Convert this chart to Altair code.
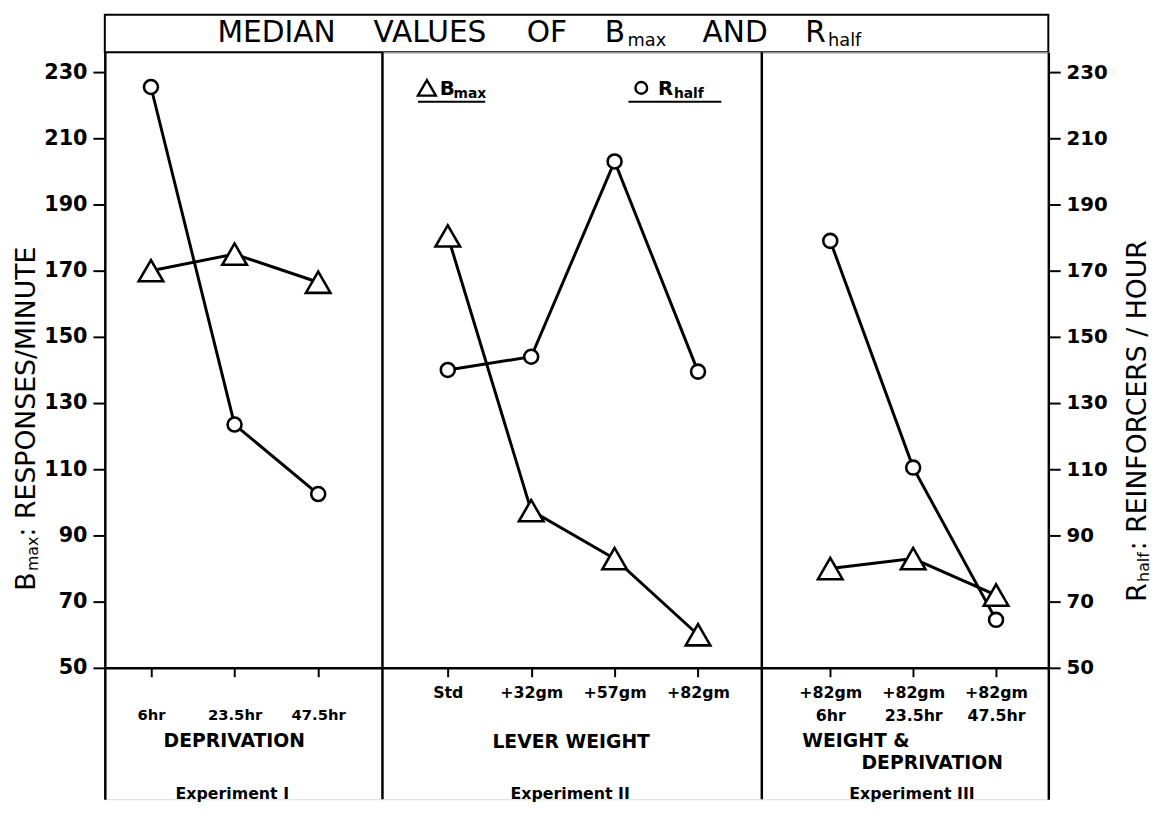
import altair as alt
import pandas as pd

# ---------------- data ----------------
p1_categories = ["6hr", "23.5hr", "47.5hr"]
p1_bmax = [170, 175, 166.5]
p1_rhalf = [225.5, 123.5, 102.5]

p2_categories = ["Std", "+32gm", "+57gm", "+82gm"]
p2_bmax = [180.5, 97.5, 83, 60]
p2_rhalf = [140, 144, 203, 139.5]

p3_categories = ["+82gm|6hr", "+82gm|23.5hr", "+82gm|47.5hr"]
p3_bmax = [80, 83, 72]
p3_rhalf = [179, 110.5, 64.5]

y_ticks = [50, 70, 90, 110, 130, 150, 170, 190, 210, 230]
series_names = ["Bmax", "Rhalf"]

# ---------------- layout ----------------
FONT = "DejaVu Sans"
H = 756                      # panel height
PX_PER_UNIT = 603 / 180      # 230 -> 20px from top, 50 -> 623px from top
Y_DOMAIN = [50 - (H - 623) / PX_PER_UNIT, 230 + 20 / PX_PER_UNIT]
AXIS_OFFSET = -(H - 623)
W1, W2, W3 = 281, 384, 290
ONE = pd.DataFrame({"k": [0]})


def txt(s, x, y, size, weight="normal", align="left", angle=0, baseline="middle"):
    return alt.Chart(ONE).mark_text(
        text=s, font=FONT, fontSize=size, fontWeight=weight, align=align,
        baseline=baseline, angle=angle, color="black"
    ).encode(x=alt.value(x), y=alt.value(y))


def rule(x, y, x2=None, y2=None, w=2):
    enc = dict(x=alt.value(x), y=alt.value(y))
    if x2 is not None:
        enc["x2"] = alt.value(x2)
    if y2 is not None:
        enc["y2"] = alt.value(y2)
    return alt.Chart(ONE).mark_rule(color="black", strokeWidth=w).encode(**enc)


def panel(cats, bmax, rhalf, width, pad, align, label_pad, y_axis, extras,
          label_size=16, label_expr=None):
    df = pd.DataFrame({
        "cond": cats * 2,
        "series": [series_names[0]] * len(cats) + [series_names[1]] * len(cats),
        "value": list(bmax) + list(rhalf),
    })
    axis_kw = dict(
        title=None, labelAngle=0, offset=AXIS_OFFSET, tickSize=9, tickWidth=2,
        domainWidth=2.5, domainColor="black", tickColor="black",
        labelPadding=label_pad, labelFont=FONT, labelFontWeight="bold",
        labelFontSize=label_size, labelColor="black", labelLineHeight=23,
    )
    if label_expr:
        axis_kw["labelExpr"] = label_expr
    xenc = alt.X("cond:N", sort=cats,
                 scale=alt.Scale(type="point", padding=pad, align=align),
                 axis=alt.Axis(**axis_kw))
    yenc = alt.Y("value:Q",
                 scale=alt.Scale(domain=Y_DOMAIN, nice=False, zero=False),
                 axis=y_axis)
    base = alt.Chart(df).encode(x=xenc, y=yenc)
    lines = base.mark_line(color="black", strokeWidth=3).encode(detail="series:N")
    pts = base.mark_point(filled=True, fill="white", stroke="black",
                          strokeWidth=2.6, opacity=1).encode(
        shape=alt.Shape("series:N", legend=None,
                        scale=alt.Scale(domain=series_names,
                                        range=["triangle-up", "circle"])),
        size=alt.Size("series:N", legend=None,
                      scale=alt.Scale(domain=series_names, range=[620, 200])),
    )
    return alt.layer(lines, pts, *extras).properties(width=width, height=H)


def y_axis(orient, size):
    return alt.Axis(orient=orient, values=y_ticks, title=None, grid=False,
                    tickSize=12, tickWidth=2, domainWidth=2.5, domainColor="black",
                    tickColor="black", labelPadding=6, labelFont=FONT,
                    labelFontWeight="bold", labelFontSize=size, labelColor="black")


# ---------------- panel 1 (with title box and left axis title) ----------------
title_box = alt.Chart(ONE).mark_rect(fillOpacity=0, stroke="black", strokeWidth=2).encode(
    x=alt.value(0), x2=alt.value(W1 + W2 + W3), y=alt.value(-38), y2=alt.value(0))
extras1 = [
    title_box,
    txt("MEDIAN", 114, -19, 30),
    txt("VALUES", 272, -19, 30),
    txt("OF", 427, -19, 30),
    txt("B", 506, -19, 30),
    txt("max", 529, -11, 18),
    txt("AND", 605, -19, 30),
    txt("R", 709, -19, 30),
    txt("half", 732, -11, 18),
    # left axis title
    txt("B", -79, 545, 27, angle=270),
    txt("max", -73, 525, 16, angle=270),
    txt(": RESPONSES/MINUTE", -79, 490, 27, angle=270),
    # x titles
    txt("DEPRIVATION", 131, 697, 19, weight="bold", align="center"),
    txt("Experiment I", 129, 751, 16, weight="bold", align="center"),
]
p1 = panel(p1_categories, p1_bmax, p1_rhalf, W1, 0.66, 0.418, 31,
           y_axis("left", 21), extras1, label_size=15)

# ---------------- panel 2 (legend) ----------------
legend_tri = alt.Chart(ONE).mark_point(shape="triangle-up", size=330, filled=True,
                                       fill="white", stroke="black", strokeWidth=2.4,
                                       opacity=1).encode(x=alt.value(45), y=alt.value(36))
legend_circ = alt.Chart(ONE).mark_point(shape="circle", size=140, filled=True,
                                        fill="white", stroke="black", strokeWidth=2.4,
                                        opacity=1).encode(x=alt.value(262), y=alt.value(36))
extras2 = [
    rule(0, 0, y2=H, w=2.5),
    legend_tri,
    txt("B", 58, 37, 20, weight="bold"),
    txt("max", 72, 42, 14, weight="bold"),
    rule(36, 50, x2=104, w=2),
    legend_circ,
    txt("R", 279, 37, 20, weight="bold"),
    txt("half", 295, 42, 14, weight="bold"),
    rule(249, 50, x2=343, w=2),
    txt("LEVER WEIGHT", 191, 698, 19, weight="bold", align="center"),
    txt("Experiment II", 190, 751, 16, weight="bold", align="center"),
]
p2 = panel(p2_categories, p2_bmax, p2_rhalf, W2, 0.774, 0.506, 8, None, extras2,
           label_size=16)

# ---------------- panel 3 (right axis title) ----------------
extras3 = [
    rule(0, 0, y2=H, w=2.5),
    txt("R", 381, 556, 27, angle=270),
    txt("half", 387, 536, 16, angle=270),
    txt(": REINFORCERS / HOUR", 381, 504, 27, angle=270),
    txt("WEIGHT &", 41, 697, 19, weight="bold"),
    txt("DEPRIVATION", 244, 719, 19, weight="bold", align="right"),
    txt("Experiment III", 152, 751, 16, weight="bold", align="center"),
]
p3 = panel(p3_categories, p3_bmax, p3_rhalf, W3, 0.728, 0.567, 8,
           y_axis("right", 20), extras3, label_size=16,
           label_expr="split(datum.label, '|')")

chart = alt.hconcat(p1, p2, p3, spacing=0, bounds="flush").properties(
    padding={"left": 4, "top": 0, "right": 4, "bottom": 0}
).configure_view(stroke=None).configure(background="white")

chart.save("out.html", embed_options={"renderer": "svg", "actions": False})
